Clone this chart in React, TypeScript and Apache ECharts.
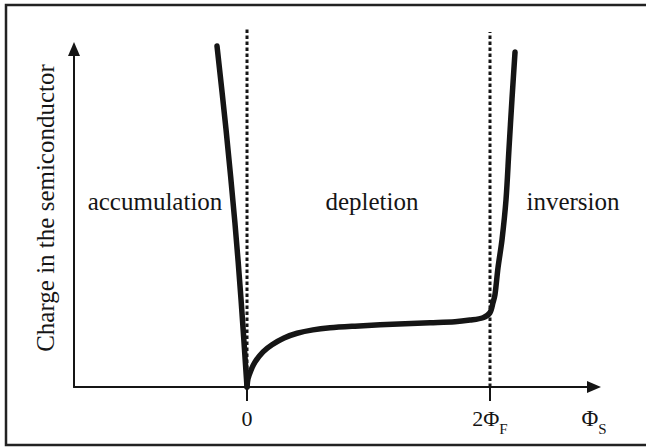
import React, { useEffect, useRef } from "react";
import * as echarts from "echarts";

// Surface potential (in units of Φ_F) and charge (arbitrary units)
const accumulationX = [-0.247, -0.173, -0.099, -0.049, 0];
const accumulationY = [100.9, 76.3, 48.4, 25.8, 0];
const depletionX = [0, 0.008, 0.033, 0.066, 0.132, 0.206, 0.305, 0.412, 0.543, 0.683, 0.889, 1.095, 1.3, 1.506, 1.712, 1.835, 1.942, 2.0, 2.025, 2.041, 2.066, 2.099, 2.132, 2.156, 2.181, 2.206];
const depletionY = [0, 2.4, 5.0, 7.4, 10.4, 12.5, 14.5, 15.9, 16.9, 17.5, 18.0, 18.4, 18.7, 19.0, 19.3, 19.8, 20.5, 22.0, 25.0, 27.3, 35.3, 43.6, 55.5, 70.3, 85.2, 99.1];
const xTickValues = [0, 2];
const xTickLabels = ["0", "2Φ{sub|F}"];
const dottedX = [0, 2];
const dottedTop = [106.5, 105];
const regionNames = ["accumulation", "depletion", "inversion"];
const yAxisTitle = "Charge in the semiconductor";
const xAxisTitle = "Φ{sub|S}";

const INK = "#151515";
const FONT = "'Liberation Serif', 'Times New Roman', serif";

export default function App() {
  const ref = useRef<HTMLDivElement>(null);
  useEffect(() => {
    if (!ref.current) return;
    const chart = echarts.init(ref.current, undefined, { renderer: "svg" });
    const zip = (xs: number[], ys: number[]) => xs.map((x, i) => [x, ys[i]]);
    const regionPos = [155, 372, 573];
    const option: any = {
      animation: false,
      backgroundColor: "#ffffff",
      grid: { left: 74, right: 52, top: 49, bottom: 60, containLabel: false },
      xAxis: {
        type: "value",
        min: -1.424,
        max: 2.856,
        splitLine: { show: false },
        axisLine: {
          show: true,
          onZero: false,
          symbol: ["none", "triangle"],
          symbolSize: [12, 14],
          lineStyle: { color: INK, width: 2 },
        },
        axisTick: {
          show: true,
          customValues: xTickValues,
          length: 14,
          inside: false,
          lineStyle: { color: INK, width: 2 },
        },
        axisLabel: {
          show: true,
          customValues: xTickValues,
          margin: 13,
          color: INK,
          fontFamily: FONT,
          fontSize: 22,
          lineHeight: 36,
          formatter: (v: number) => {
            const i = xTickValues.indexOf(v);
            return i >= 0 ? xTickLabels[i] : "";
          },
          rich: {
            sub: { fontFamily: FONT, fontSize: 15, color: INK, lineHeight: 14, verticalAlign: "bottom" },
          },
        },
        name: xAxisTitle,
        nameLocation: "end",
        nameGap: 0,
        nameTextStyle: {
          color: INK,
          fontFamily: FONT,
          fontSize: 23,
          lineHeight: 36,
          align: "center",
          verticalAlign: "top",
          padding: [13, 0, 0, 0],
          rich: {
            sub: { fontFamily: FONT, fontSize: 15, color: INK, lineHeight: 27, verticalAlign: "bottom" },
          },
        },
      },
      yAxis: {
        type: "value",
        min: 0,
        max: 100,
        splitLine: { show: false },
        axisTick: { show: false },
        axisLabel: { show: false },
        axisLine: {
          show: true,
          onZero: false,
          symbol: ["none", "triangle"],
          symbolSize: [12, 14],
          lineStyle: { color: INK, width: 2 },
        },
        name: yAxisTitle,
        nameLocation: "middle",
        nameRotate: 90,
        nameGap: 29,
        nameTextStyle: {
          color: INK,
          fontFamily: FONT,
          fontSize: 25,
          align: "center",
          verticalAlign: "middle",
          padding: [0, 0, 0, 20],
        },
      },
      series: [
        ...dottedX.map((x, i) => ({
          type: "line",
          data: [[x, 0], [x, dottedTop[i]]],
          clip: false,
          symbol: "none",
          silent: true,
          lineStyle: { color: INK, width: 3, type: [3.5, 2.5] },
          z: 1,
        })),
        {
          type: "line",
          name: "accumulation",
          data: zip(accumulationX, accumulationY),
          clip: false,
          symbol: "none",
          smooth: 0.3,
          lineStyle: { color: INK, width: 5.5, cap: "round", join: "round" },
          z: 3,
        },
        {
          type: "line",
          name: "depletion-inversion",
          data: zip(depletionX, depletionY),
          clip: false,
          symbol: "none",
          smooth: 0.3,
          lineStyle: { color: INK, width: 5.5, cap: "round", join: "round" },
          z: 3,
        },
      ],
      graphic: [
        {
          type: "rect",
          shape: { x: 6, y: 5, width: 700, height: 440 },
          style: { fill: "none", stroke: "#222", lineWidth: 2.5 },
          silent: true,
        },
        ...regionNames.map((t, i) => ({
          type: "text",
          x: regionPos[i],
          y: 201,
          style: {
            text: t,
            fill: INK,
            font: `25px ${FONT}`,
            align: "center",
            verticalAlign: "middle",
          },
          silent: true,
        })),
      ],
    };
    chart.setOption(option);
    return () => chart.dispose();
  }, []);
  return (
    <div
      ref={ref}
      style={{ position: "fixed", left: 0, top: 0, width: 646, height: 447, background: "#fff" }}
    />
  );
}
